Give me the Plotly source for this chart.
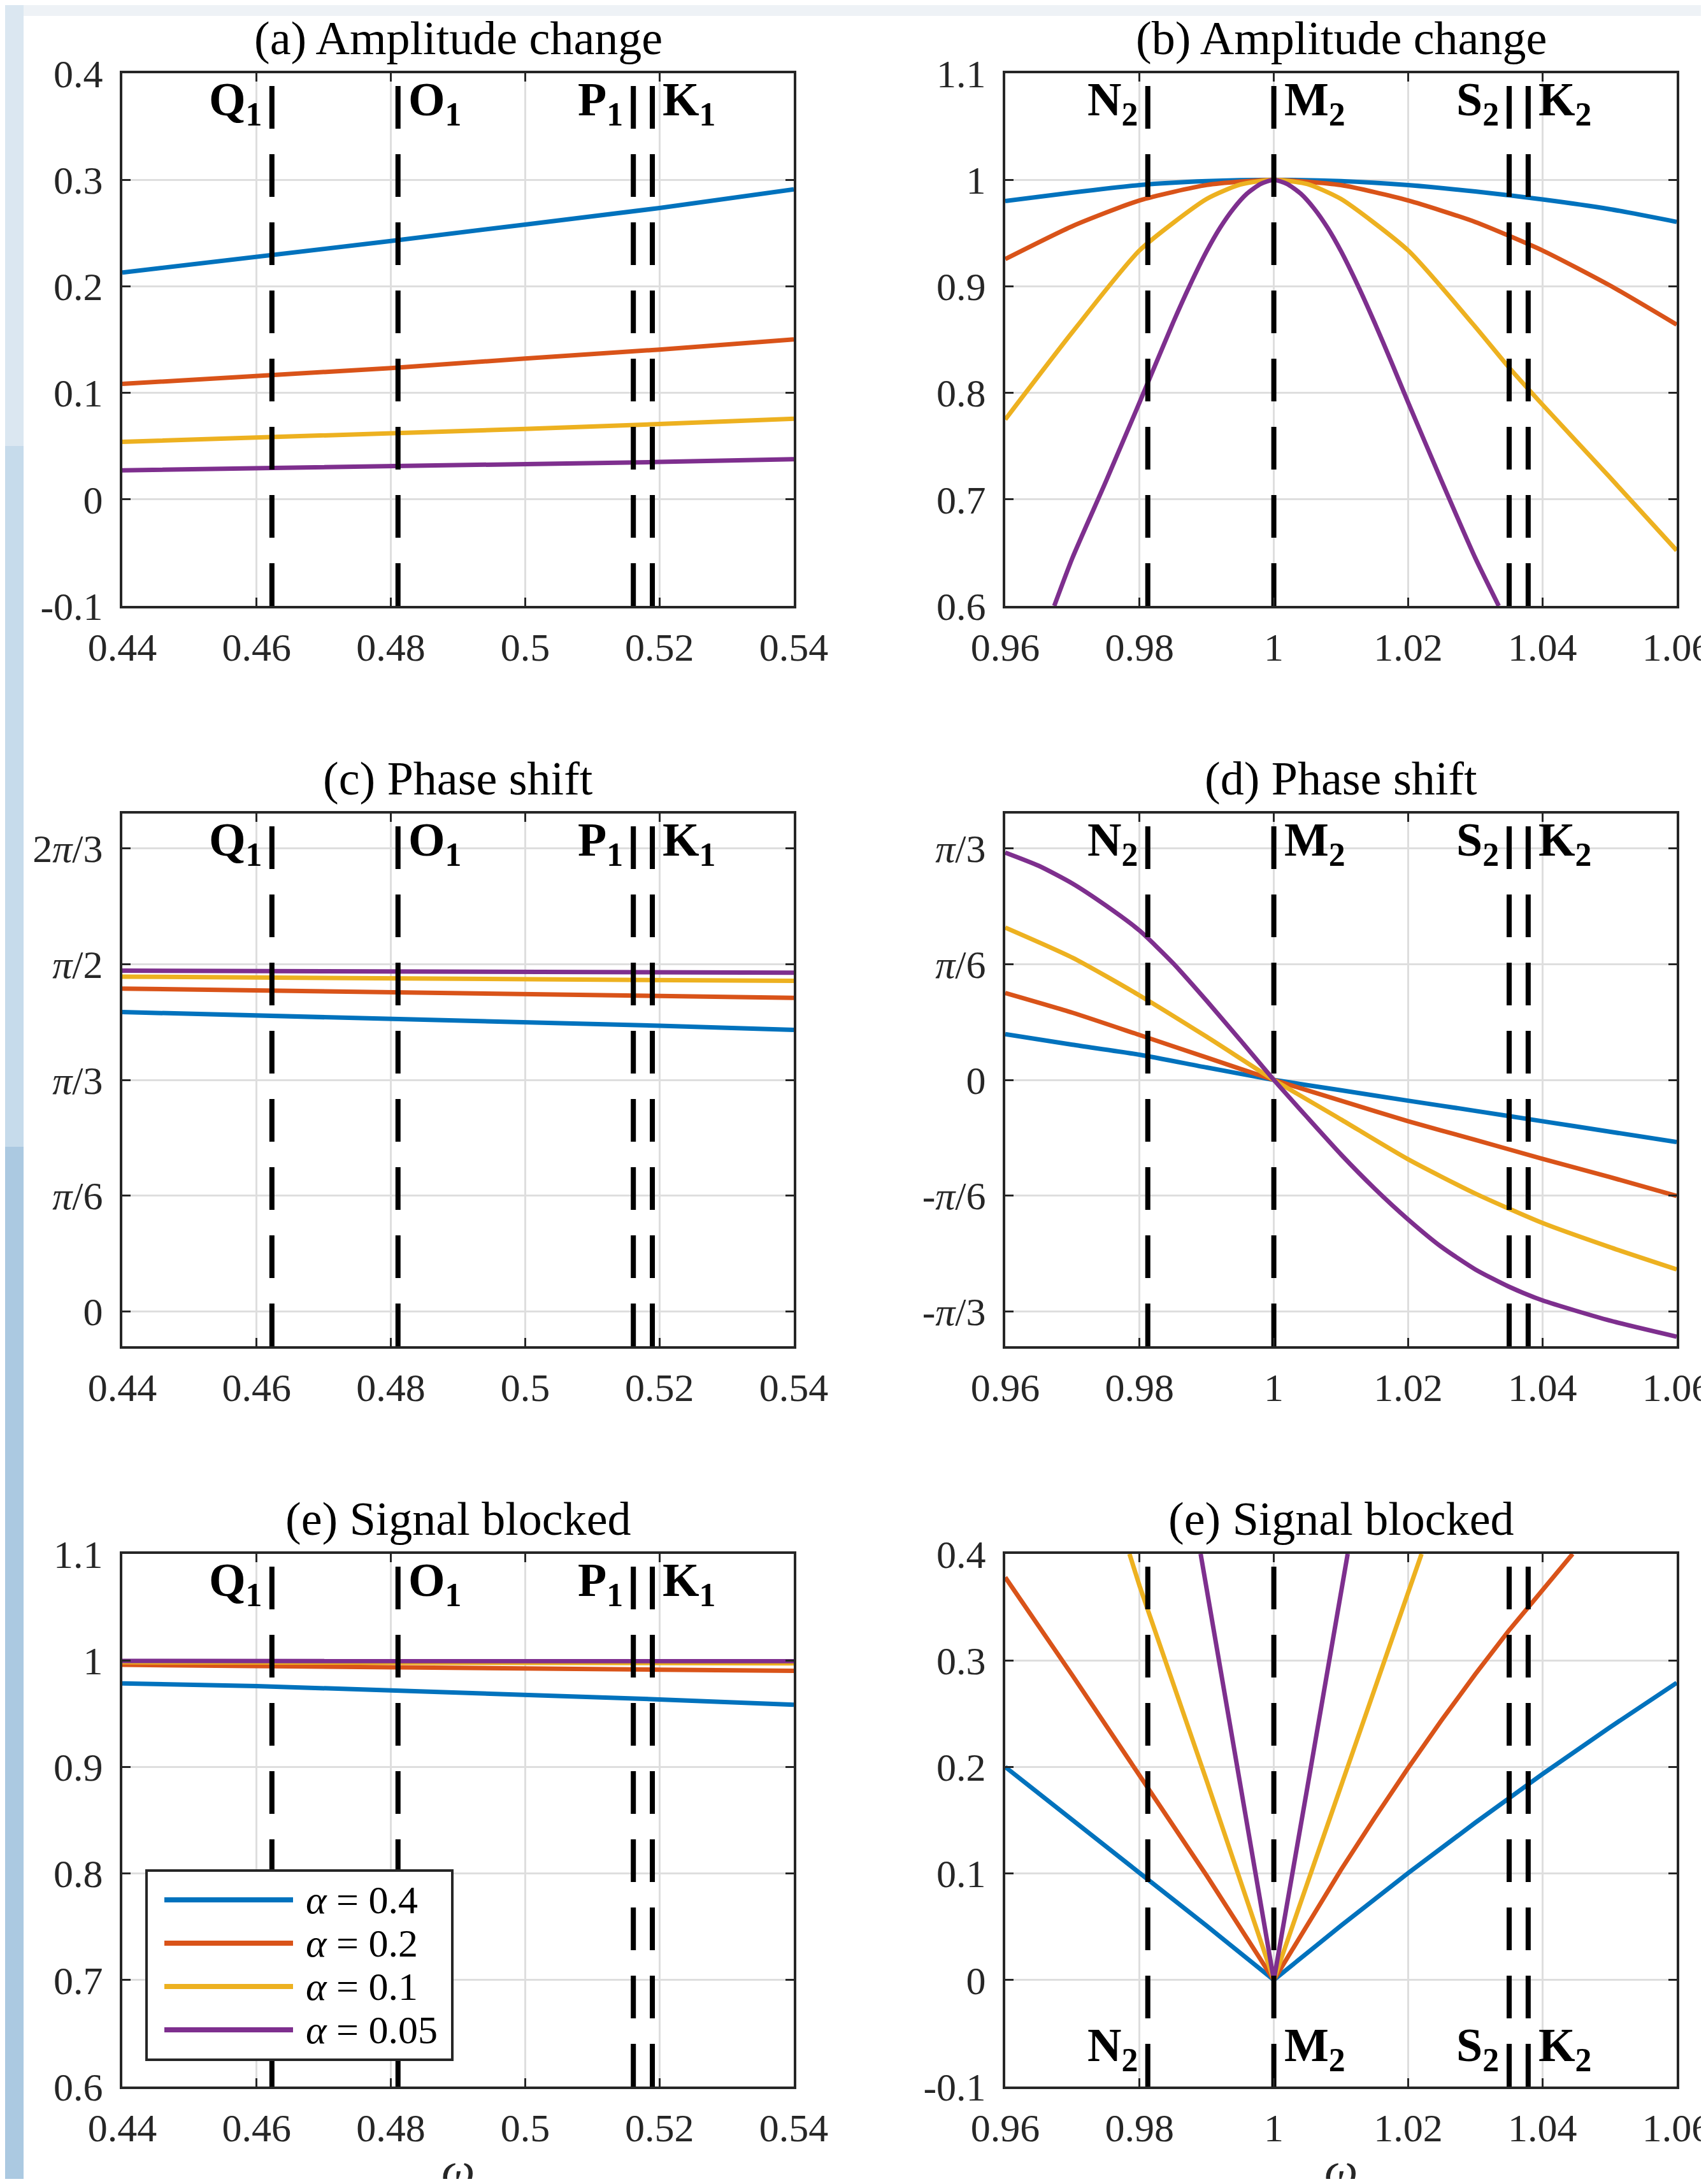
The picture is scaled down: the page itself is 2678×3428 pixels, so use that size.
import math
import plotly.graph_objects as go

W, H = 2678, 3428          # browser window
OFF = 8                    # page body margin around the figure div
FW, FH = W - 2 * OFF, H - 2 * OFF   # figure size that fits without scrollbars
PI = math.pi

# ---------------- data ----------------
alpha_labels = ["0.4", "0.2", "0.1", "0.05"]
colors = ["#0072BD", "#D95319", "#EDB120", "#7E2F8E"]

# diurnal band (panels a, c, e)
x_diurnal = [0.44, 0.46, 0.48, 0.50, 0.52, 0.54]
amp_diurnal = [
    [0.213, 0.2275, 0.2425, 0.258, 0.2735, 0.291],
    [0.1084, 0.1160, 0.1233, 0.1322, 0.1406, 0.1502],
    [0.054, 0.0578, 0.0619, 0.0661, 0.0707, 0.0757],
    [0.0272, 0.0291, 0.0308, 0.0331, 0.0351, 0.0377],
]
phase_diurnal = [
    [1.354, 1.339, 1.325, 1.309, 1.292, 1.273],
    [1.460, 1.453, 1.444, 1.436, 1.427, 1.418],
    [1.514, 1.510, 1.506, 1.503, 1.499, 1.495],
    [1.541, 1.539, 1.538, 1.536, 1.534, 1.532],
]
blocked_diurnal = [
    [0.9785, 0.9759, 0.9719, 0.9680, 0.9634, 0.9584],
    [0.9959, 0.9950, 0.9939, 0.9926, 0.9913, 0.9903],
    [0.9983, 0.9981, 0.9979, 0.9977, 0.9975, 0.9973],
    [0.9995, 0.9995, 0.9994, 0.9994, 0.9993, 0.9993],
]

# semidiurnal band (panels b, d, f)
amp_semi_x = [
    [0.96, 0.97, 0.98, 0.99, 1.0, 1.01, 1.02, 1.03, 1.04, 1.05, 1.06],
    [0.96, 0.97, 0.98, 0.99, 1.0, 1.01, 1.02, 1.03, 1.04, 1.05, 1.06],
    [0.96, 0.97, 0.98, 0.99, 0.995, 1.0, 1.005, 1.01, 1.02, 1.03, 1.035, 1.04, 1.05, 1.06],
    [0.9673, 0.970, 0.975, 0.980, 0.985, 0.9875, 0.990, 0.992, 0.994, 0.996, 0.998, 1.0,
     1.002, 1.004, 1.006, 1.008, 1.010, 1.0125, 1.015, 1.0175, 1.020, 1.025, 1.030, 1.0335],
]
amp_semi_y = [
    [0.980, 0.988, 0.9951, 0.9988, 1.0, 0.9988, 0.995, 0.989, 0.9816, 0.9725, 0.9605],
    [0.9256, 0.9565, 0.9806, 0.9951, 1.0, 0.995, 0.9806, 0.9604, 0.9337, 0.901, 0.864],
    [0.775, 0.857, 0.9337, 0.982, 0.9955, 1.0, 0.996, 0.982, 0.9337, 0.862, 0.824, 0.789, 0.721, 0.652],
    [0.600, 0.645, 0.717, 0.791, 0.866, 0.901, 0.933, 0.955, 0.973, 0.987, 0.996, 1.0,
     0.996, 0.987, 0.973, 0.955, 0.933, 0.901, 0.866, 0.829, 0.791, 0.717, 0.645, 0.600],
]
phase_semi_x = [
    [0.96, 0.97, 0.98, 0.99, 1.0, 1.01, 1.02, 1.03, 1.04, 1.05, 1.06],
    [0.96, 0.97, 0.98, 0.99, 1.0, 1.01, 1.02, 1.03, 1.04, 1.05, 1.06],
    [0.96, 0.97, 0.98, 0.99, 1.0, 1.01, 1.02, 1.03, 1.04, 1.05, 1.06],
    [0.96, 0.965, 0.97, 0.975, 0.98, 0.985, 0.99, 0.995, 1.0, 1.005, 1.01, 1.015,
     1.02, 1.025, 1.03, 1.035, 1.04, 1.05, 1.06],
]
phase_semi_y = [
    [0.207, 0.159, 0.114, 0.056, 0.0, -0.047, -0.094, -0.140, -0.187, -0.234, -0.281],
    [0.393, 0.304, 0.203, 0.101, 0.0, -0.094, -0.187, -0.271, -0.357, -0.439, -0.525],
    [0.689, 0.553, 0.382, 0.195, 0.0, -0.179, -0.359, -0.514, -0.647, -0.756, -0.857],
    [1.028, 0.968, 0.888, 0.788, 0.675, 0.5275, 0.3575, 0.180, 0.0, -0.170, -0.337, -0.491,
     -0.631, -0.756, -0.857, -0.935, -0.997, -1.088, -1.161],
]
blocked_semi_x = [
    [0.96, 0.97, 0.98, 0.99, 1.0, 1.01, 1.02, 1.03, 1.04, 1.05, 1.06],
    [0.96, 0.97, 0.98, 0.99, 1.0, 1.005, 1.01, 1.015, 1.02, 1.025, 1.03, 1.035, 1.04, 1.0445],
    [0.9785, 0.98, 0.99, 1.0, 1.01, 1.02, 1.022],
    [0.9891, 0.995, 1.0, 1.005, 1.011],
]
blocked_semi_y = [
    [0.200, 0.1505, 0.1016, 0.0508, 0.0, 0.051, 0.1003, 0.1477, 0.1933, 0.237, 0.279],
    [0.378, 0.286, 0.192, 0.098, 0.0, 0.0527, 0.1034, 0.152, 0.199, 0.244, 0.287, 0.328, 0.366, 0.400],
    [0.400, 0.370, 0.187, 0.0, 0.182, 0.364, 0.400],
    [0.400, 0.183, 0.0, 0.181, 0.400],
]

# tidal constituents (frequency relative to M2)
diurnal_names = ["Q", "O", "P", "K"]
diurnal_sub = ["1", "1", "1", "1"]
diurnal_freq = [0.46228, 0.48106, 0.51611, 0.51894]
semi_names = ["N", "M", "S", "K"]
semi_sub = ["2", "2", "2", "2"]
semi_freq = [0.98123, 1.0, 1.03505, 1.03788]
label_side = ["left", "right", "left", "right"]

titles = ["(a) Amplitude change", "(b) Amplitude change",
          "(c) Phase shift", "(d) Phase shift",
          "(e) Signal blocked", "(e) Signal blocked"]

x_ticks_d = [0.44, 0.46, 0.48, 0.50, 0.52, 0.54]
x_ticktext_d = ["0.44", "0.46", "0.48", "0.5", "0.52", "0.54"]
x_ticks_s = [0.96, 0.98, 1.0, 1.02, 1.04, 1.06]
x_ticktext_s = ["0.96", "0.98", "1", "1.02", "1.04", "1.06"]

amp_ticks_lo = [-0.1, 0.0, 0.1, 0.2, 0.3, 0.4]
amp_ticktext_lo = ["-0.1", "0", "0.1", "0.2", "0.3", "0.4"]
amp_ticks_hi = [0.6, 0.7, 0.8, 0.9, 1.0, 1.1]
amp_ticktext_hi = ["0.6", "0.7", "0.8", "0.9", "1", "1.1"]
phase_ticks_c = [0, PI / 6, PI / 3, PI / 2, 2 * PI / 3]
phase_ticktext_c = ["0", "<i>π</i>/6", "<i>π</i>/3", "<i>π</i>/2", "2<i>π</i>/3"]
phase_ticks_d = [-PI / 3, -PI / 6, 0, PI / 6, PI / 3]
phase_ticktext_d = ["-<i>π</i>/3", "-<i>π</i>/6", "0", "<i>π</i>/6", "<i>π</i>/3"]

# ---------------- layout geometry (screen pixels) ----------------
col_px = [(192, 1246), (1578, 2632)]
row_px = [(115, 951), (1277, 2113), (2439, 3275)]

def px_x(p):
    return (p - OFF) / FW

def px_y(p):
    return 1 - (p - OFF) / FH

FONT = "Liberation Serif"
AX_COLOR = "#262626"

fig = go.Figure()

panels = [
    (0, 0, [x_diurnal] * 4, amp_diurnal, [0.44, 0.54], x_ticks_d, x_ticktext_d,
     [-0.1, 0.4], amp_ticks_lo, amp_ticktext_lo, "d", "linear"),
    (0, 1, amp_semi_x, amp_semi_y, [0.96, 1.06], x_ticks_s, x_ticktext_s,
     [0.6, 1.1], amp_ticks_hi, amp_ticktext_hi, "s", "spline"),
    (1, 0, [x_diurnal] * 4, phase_diurnal, [0.44, 0.54], x_ticks_d, x_ticktext_d,
     [-PI / 20, 2 * PI / 3 + PI / 20], phase_ticks_c, phase_ticktext_c, "d", "linear"),
    (1, 1, phase_semi_x, phase_semi_y, [0.96, 1.06], x_ticks_s, x_ticktext_s,
     [-PI / 3 - PI / 20, PI / 3 + PI / 20], phase_ticks_d, phase_ticktext_d, "s", "spline"),
    (2, 0, [x_diurnal] * 4, blocked_diurnal, [0.44, 0.54], x_ticks_d, x_ticktext_d,
     [0.6, 1.1], amp_ticks_hi, amp_ticktext_hi, "d", "linear"),
    (2, 1, blocked_semi_x, blocked_semi_y, [0.96, 1.06], x_ticks_s, x_ticktext_s,
     [-0.1, 0.4], amp_ticks_lo, amp_ticktext_lo, "s", "linear"),
]

annotations = []
shapes = []

for i, (r, c, xs, ys, xr, xt, xtt, yr, yt, ytt, band, lshape) in enumerate(panels):
    n = i + 1
    xa = "x" if n == 1 else f"x{n}"
    ya = "y" if n == 1 else f"y{n}"
    for k in range(4):
        line = dict(color=colors[k], width=7, shape=lshape)
        if lshape == "spline":
            line["smoothing"] = 0.6
        fig.add_trace(go.Scatter(
            x=xs[k], y=ys[k], mode="lines", xaxis=xa, yaxis=ya,
            line=line, showlegend=False, name="α = " + alpha_labels[k]))
    freqs = diurnal_freq if band == "d" else semi_freq
    names = diurnal_names if band == "d" else semi_names
    subs = diurnal_sub if band == "d" else semi_sub
    for f in freqs:
        fig.add_trace(go.Scatter(
            x=[f, f], y=[yr[0], yr[1]], mode="lines", xaxis=xa, yaxis=ya,
            line=dict(color="black", width=8, dash="67px,40px"),
            showlegend=False, hoverinfo="skip"))
    at_bottom = (n == 6)
    for f, nm, sb, side in zip(freqs, names, subs, label_side):
        annotations.append(dict(
            x=f, y=(60 / 836) if at_bottom else (1 - 46 / 836),
            xref=xa, yref=f"{ya} domain",
            text=f"<b>{nm}<sub>{sb}</sub></b>", showarrow=False,
            xanchor="right" if side == "left" else "left", yanchor="middle",
            xshift=-14 if side == "left" else 14,
            font=dict(family=FONT, size=74, color="black")))
    x0, x1 = col_px[c]
    t, b = row_px[r]
    common = dict(showline=True, linecolor=AX_COLOR, linewidth=4, mirror="ticks",
                  ticks="inside", ticklen=13, tickwidth=3, tickcolor=AX_COLOR,
                  showgrid=True, gridcolor="#dedede", gridwidth=2.5, zeroline=False,
                  tickfont=dict(family=FONT, size=62, color=AX_COLOR),
                  ticklabeloverflow="allow", automargin=False)
    fig.layout[("xaxis" if n == 1 else f"xaxis{n}")] = dict(
        common, domain=[px_x(x0), px_x(x1)], range=xr, tickmode="array",
        tickvals=xt, ticktext=xtt, anchor=ya, ticklabelstandoff=8)
    fig.layout[("yaxis" if n == 1 else f"yaxis{n}")] = dict(
        common, domain=[px_y(b), px_y(t)], range=yr, tickmode="array",
        tickvals=yt, ticktext=ytt, anchor=xa, ticklabelstandoff=14)
    annotations.append(dict(
        x=px_x((x0 + x1) / 2), y=px_y(t - 12), xref="paper", yref="paper",
        text=titles[i], showarrow=False, xanchor="center", yanchor="bottom",
        font=dict(family=FONT, size=74, color="black")))
    if r == 2:
        annotations.append(dict(
            x=px_x((x0 + x1) / 2), y=px_y(3362), xref="paper", yref="paper",
            text="<i>ω</i>", showarrow=False, xanchor="center", yanchor="top",
            font=dict(family=FONT, size=74, color=AX_COLOR)))

# legend (drawn inside panel e)
lg_x0, lg_x1, lg_y0, lg_y1 = 230, 710, 2936, 3233
shapes.append(dict(type="rect", xref="paper", yref="paper",
                   x0=px_x(lg_x0), x1=px_x(lg_x1), y0=px_y(lg_y1), y1=px_y(lg_y0),
                   line=dict(color=AX_COLOR, width=4), fillcolor="white", layer="above"))
for k in range(4):
    yc = 2982 + 68 * k
    shapes.append(dict(type="line", xref="paper", yref="paper",
                       x0=px_x(258), x1=px_x(460), y0=px_y(yc), y1=px_y(yc),
                       line=dict(color=colors[k], width=8), layer="above"))
    annotations.append(dict(
        x=px_x(478), y=px_y(yc), xref="paper", yref="paper",
        text="<i>α</i> = " + alpha_labels[k], showarrow=False,
        xanchor="left", yanchor="middle",
        font=dict(family=FONT, size=62, color="black")))

# page background strips seen around the figure
shapes.append(dict(type="rect", xref="paper", yref="paper", x0=px_x(0), x1=1,
                   y0=px_y(25), y1=px_y(0), line=dict(width=0), fillcolor="#eef2f6", layer="below"))
for (ya0, ya1, colr) in [(0, 700, "#dbe7f1"), (700, 1800, "#c6dbeb"), (1800, 3440, "#abc9e1")]:
    shapes.append(dict(type="rect", xref="paper", yref="paper", x0=px_x(0), x1=px_x(37),
                       y0=px_y(ya1), y1=px_y(ya0), line=dict(width=0),
                       fillcolor=colr, layer="below"))

fig.update_layout(
    width=FW, height=FH, autosize=False,
    margin=dict(l=0, r=0, t=0, b=0, pad=0, autoexpand=False),
    paper_bgcolor="white", plot_bgcolor="white",
    annotations=annotations, shapes=shapes, showlegend=False,
)

fig.write_html("out.html", config={"displayModeBar": False})
